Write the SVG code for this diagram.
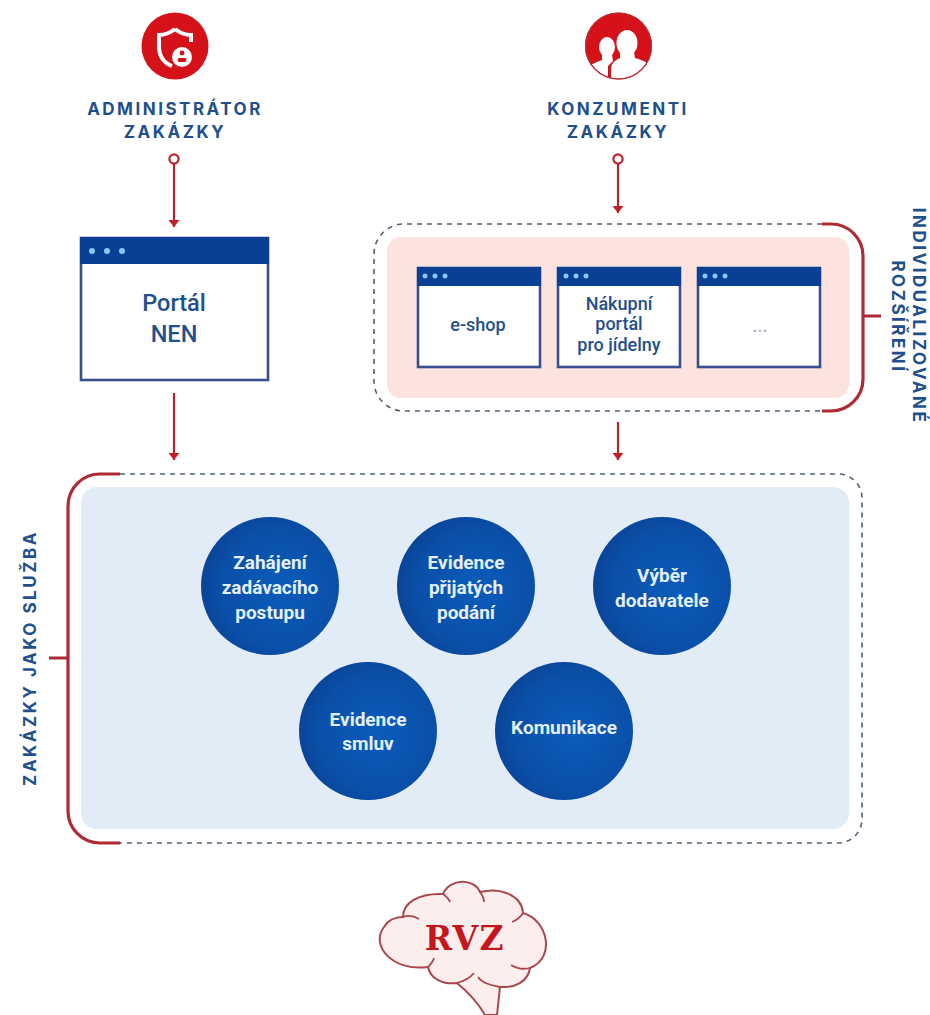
<svg xmlns="http://www.w3.org/2000/svg" width="930" height="1015" viewBox="0 0 930 1015">
<defs>
<radialGradient id="g" cx=".58" cy=".52" r=".62"><stop offset="0" stop-color="#0b5cbb"/><stop offset=".7" stop-color="#0a4fa8"/><stop offset="1" stop-color="#0a4294"/></radialGradient>
<marker id="a" markerWidth="8" markerHeight="11" refX="7" refY="5.500" orient="auto" markerUnits="userSpaceOnUse"><path d="M0 0 L7 5.500 L0 11Z" fill="#bf1f2b"/></marker>
<clipPath id="cp"><circle cx="618.500" cy="46" r="32.500"/></clipPath>
</defs>
<style>
.lab{font:700 17px Inter,"Liberation Sans",sans-serif;fill:#1f4f8c;letter-spacing:2.500px;text-anchor:middle}
.circ{font:700 19px Roboto,"Liberation Sans",sans-serif;fill:#e4f0fb;text-anchor:middle}
.win{font:500 18px Roboto,"Liberation Sans",sans-serif;fill:#1f4f8c;text-anchor:middle}
.frame{fill:none;stroke:#4f5f78;stroke-width:1.600;stroke-dasharray:5 5}
.br{fill:none;stroke:#b02a35;stroke-width:3.200}
.con{fill:none;stroke:#bf1f2b;stroke-width:2.200}
.wbody{fill:#fff;stroke:#3a4f90;stroke-width:2.600}
.whead{fill:#0a3f94}
.dot{fill:#8cc6f5}
.ball{fill:url(#g)}
</style>
<rect width="930" height="1015" fill="#fff"/>

<g id="zone-blue"><rect x="81" y="487" width="768" height="342" rx="16" fill="#e1ecf7"/></g>
<g id="zone-pink"><rect x="387" y="237" width="462" height="161" rx="14" fill="#fce3e0"/></g>

<g id="frames">
<path class="frame" d="M120 474H838a24 24 0 0 1 24 24V819a24 24 0 0 1-24 24H120"/>
<path class="br" d="M120 474H100a32 32 0 0 0-32 32V811a32 32 0 0 0 32 32H120M68 658H49"/>
<path class="frame" d="M822 224H404a30 30 0 0 0-30 30V381a30 30 0 0 0 30 30H822"/>
<path class="br" d="M822 224H831a32 32 0 0 1 32 32V379a32 32 0 0 1-32 32H822M863 316H881"/>
</g>

<g id="connectors">
<circle class="con" cx="174" cy="159" r="4.600" fill="#fff"/>
<path class="con" d="M174 164V227" marker-end="url(#a)"/>
<path class="con" d="M174 393V460" marker-end="url(#a)"/>
<circle class="con" cx="618" cy="159" r="4.600" fill="#fff"/>
<path class="con" d="M618 164V213" marker-end="url(#a)"/>
<path class="con" d="M618 422V460" marker-end="url(#a)"/>
</g>

<g id="admin">
<circle cx="175" cy="46" r="33.500" fill="#d5121a"/>
<path d="M175 29C170 33 165 35 159 35V46C159 56 164 63 172 66" fill="none" stroke="#fff" stroke-width="4"/>
<path d="M175 29C180 33 185 35 191 35V42" fill="none" stroke="#fff" stroke-width="4"/>
<circle cx="182" cy="57" r="10" fill="#fff"/>
<circle cx="182" cy="53" r="2.400" fill="#d5121a"/>
<rect x="177.500" y="58" width="9" height="4" rx="2" fill="#d5121a"/>
<text class="lab" x="175" y="115">ADMINISTRÁTOR</text>
<text class="lab" x="175" y="138">ZAKÁZKY</text>
</g>

<g id="konzumenti">
<circle cx="618.500" cy="46" r="33.500" fill="#d5121a"/>
<g clip-path="url(#cp)" fill="#fff">
<ellipse cx="607" cy="47" rx="8" ry="10"/>
<path d="M602 54H612L613 61L608 66V82H582V72C586 65 596 63 602 60Z"/>
<ellipse cx="627" cy="43" rx="10.500" ry="13"/>
<path d="M620 52H634L635 58C642 60 650 63 654 68V82H611V68C612 62 616 60 620 58Z"/>
</g>
<circle cx="618.500" cy="46" r="33" fill="none" stroke="#b0343a" stroke-width="1.200"/>
<text class="lab" x="618" y="115">KONZUMENTI</text>
<text class="lab" x="618" y="138">ZAKÁZKY</text>
</g>

<g id="portal-nen">
<rect class="wbody" x="81" y="238" width="187" height="142"/>
<rect class="whead" x="80" y="237" width="189" height="27"/>
<circle class="dot" cx="92" cy="251" r="3"/><circle class="dot" cx="107" cy="251" r="3"/><circle class="dot" cx="122" cy="251" r="3"/>
<text class="win" style="font-size:23.500px" x="174" y="311">Portál</text>
<text class="win" style="font-size:23.500px" x="174" y="342">NEN</text>
</g>

<g id="eshop">
<rect class="wbody" x="418" y="268" width="122" height="99"/>
<rect class="whead" x="417" y="267" width="124" height="19"/>
<circle class="dot" cx="425" cy="276" r="2.500"/><circle class="dot" cx="435" cy="276" r="2.500"/><circle class="dot" cx="445" cy="276" r="2.500"/>
<text class="win" x="478" y="331">e-shop</text>
</g>

<g id="nakupni">
<rect class="wbody" x="558" y="268" width="122" height="99"/>
<rect class="whead" x="557" y="267" width="124" height="19"/>
<circle class="dot" cx="566" cy="276" r="2.500"/><circle class="dot" cx="576" cy="276" r="2.500"/><circle class="dot" cx="586" cy="276" r="2.500"/>
<text class="win" x="619" y="310">Nákupní</text>
<text class="win" x="619" y="330">portál</text>
<text class="win" x="619" y="351">pro jídelny</text>
</g>

<g id="dalsi">
<rect class="wbody" x="698" y="268" width="122" height="99"/>
<rect class="whead" x="697" y="267" width="124" height="19"/>
<circle class="dot" cx="705" cy="276" r="2.500"/><circle class="dot" cx="715" cy="276" r="2.500"/><circle class="dot" cx="725" cy="276" r="2.500"/>
<text class="win" style="fill:#a4aec0" x="760" y="332">...</text>
</g>

<g id="label-individ">
<text class="lab" transform="translate(913 316) rotate(90)">INDIVIDUALIZOVANÉ</text>
<text class="lab" transform="translate(892 317) rotate(90)">ROZŠÍŘENÍ</text>
</g>
<g id="label-zakazky">
<text class="lab" transform="translate(36 658) rotate(-90)">ZAKÁZKY JAKO SLUŽBA</text>
</g>

<g id="n1"><circle class="ball" cx="270" cy="586" r="69"/><text class="circ" x="270" y="569">Zahájení</text><text class="circ" x="270" y="594">zadávacího</text><text class="circ" x="270" y="619">postupu</text></g>
<g id="n2"><circle class="ball" cx="466" cy="586" r="69"/><text class="circ" x="466" y="569">Evidence</text><text class="circ" x="466" y="594">přijatých</text><text class="circ" x="466" y="619">podání</text></g>
<g id="n3"><circle class="ball" cx="662" cy="586" r="69"/><text class="circ" x="662" y="582">Výběr</text><text class="circ" x="662" y="607">dodavatele</text></g>
<g id="n4"><circle class="ball" cx="368" cy="731" r="69"/><text class="circ" x="368" y="726">Evidence</text><text class="circ" x="368" y="750">smluv</text></g>
<g id="n5"><circle class="ball" cx="564" cy="731" r="69"/><text class="circ" x="564" y="734">Komunikace</text></g>

<g id="rvz">
<path d="M403 917C403 903 418 893 443 894C450 878 474 878 480 892C500 887 522 895 523 913C548 920 556 958 530 968C528 982 515 988 500 987C499 996 498 1005 497 1015H485C478 1003 468 992 457 983C442 985 430 978 428 967C392 972 370 945 384 927C388 920 395 917 403 917Z" fill="#fdeeee" stroke="#a8474c" stroke-width="2"/>
<path d="M403 917C408 915 414 916 419 919M443 894C447 897 449 899 450 902M480 892C483 896 484 899 484 902M523 913C520 918 517 920 512 922M530 968C522 970 516 968 511 965M500 987C490 985 482 983 478 977M457 983C464 981 470 978 474 973M428 967C431 964 433 962 434 958" fill="none" stroke="#a8474c" stroke-width="1.800"/>
<text x="465" y="950" text-anchor="middle" style="font:700 33px 'DejaVu Serif','Liberation Serif',serif;fill:#c4161c;letter-spacing:1.500px">RVZ</text>
</g>
</svg>
